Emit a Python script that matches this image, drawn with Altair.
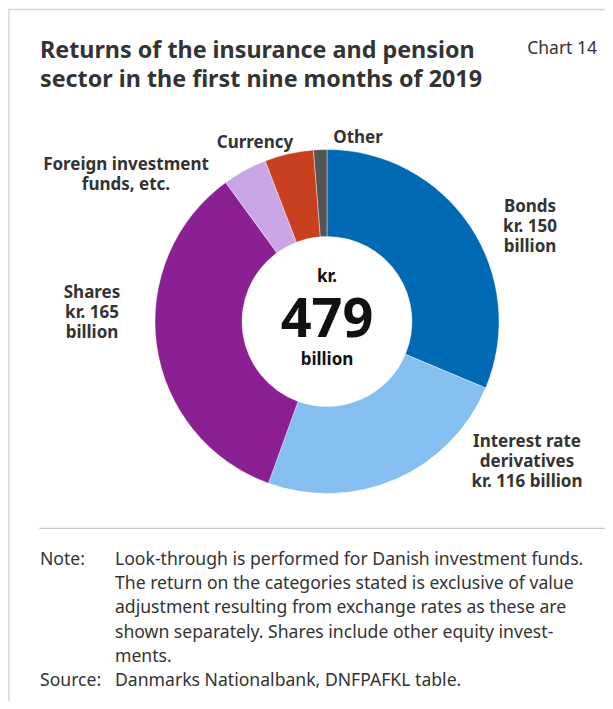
import altair as alt
import pandas as pd

# ---- data ----
categories = ["Bonds", "Interest rate derivatives", "Shares",
              "Foreign investment funds, etc.", "Currency", "Other"]
values = [150, 116, 165, 20, 22, 6]
colors = ["#0069b4", "#85bff0", "#8b1f94", "#c9a6e4", "#c8401f", "#555555"]
total_label = "479"

df = pd.DataFrame({"category": categories, "value": values,
                   "idx": list(range(len(categories)))})

W, H = 597, 693
CX, CY = 319, 313.5
FONT = "Noto Sans"
DARK = "#333333"
LBL = 17
NOTE = 17.6

one = pd.DataFrame({"a": [0]})


def txt(x, y, s, size=LBL, weight="bold", align="center", color=DARK,
        line_height=20):
    return alt.Chart(one).mark_text(
        font=FONT, fontSize=size, fontWeight=weight, align=align,
        baseline="alphabetic", color=color, lineBreak="\n", lineHeight=line_height
    ).encode(x=alt.value(x), y=alt.value(y), text=alt.value(s))


def rule(x, x2, y, y2, color="#d4d4d4", w=1.5):
    return alt.Chart(one).mark_rule(color=color, strokeWidth=w).encode(
        x=alt.value(x), x2=alt.value(x2), y=alt.value(y), y2=alt.value(y2))


arcs = alt.Chart(df).mark_arc(radius=172, radius2=85, stroke="white",
                              strokeWidth=0.4).encode(
    theta=alt.Theta("value:Q", stack=True),
    color=alt.Color("category:N", scale=alt.Scale(domain=categories, range=colors),
                    legend=None),
    order=alt.Order("idx:Q"),
    x=alt.value(CX), y=alt.value(CY),
)

layers = [
    rule(0, W, 1.5, 1.5),
    rule(1, 1, 1.5, H),
    txt(32, 50, "Returns of the insurance and pension\nsector in the first nine months of 2019",
        size=23.3, align="left", line_height=29),
    txt(589, 46, "Chart 14", size=17.5, weight="normal", align="right"),
    arcs,
    txt(CX, 273.7, "kr.", size=17, color="#111111"),
    txt(CX, 328.7, total_label, size=54, color="#111111"),
    txt(CX, 357, "billion", size=17, color="#111111"),
    txt(522, 203.7, "Bonds\nkr. 150\nbillion"),
    txt(519, 438.7, "Interest rate\nderivatives\nkr. 116 billion", line_height=20.3),
    txt(84, 290.3, "Shares\nkr. 165\nbillion"),
    txt(118, 162, "Foreign investment\nfunds, etc."),
    txt(247, 140.3, "Currency"),
    txt(350, 135, "Other"),
    rule(31.3, 597, 520.3, 520.3, color="#bbbbbb", w=1),
    txt(32, 557, "Note:", size=NOTE, weight="normal", align="left"),
    txt(107, 557,
        "Look-through is performed for Danish investment funds.\n"
        "The return on the categories stated is exclusive of value\n"
        "adjustment resulting from exchange rates as these are\n"
        "shown separately. Shares include other equity invest-\n"
        "ments.",
        size=NOTE, weight="normal", align="left", line_height=24.2),
    txt(32, 678, "Source:", size=NOTE, weight="normal", align="left"),
    txt(107, 678, "Danmarks Nationalbank, DNFPAFKL table.", size=NOTE,
        weight="normal", align="left"),
]

chart = alt.layer(*layers).properties(
    width=W, height=H, padding=0, autosize="none"
).configure_view(stroke=None)

chart.save("out.html", embed_options={"renderer": "svg", "actions": False})
